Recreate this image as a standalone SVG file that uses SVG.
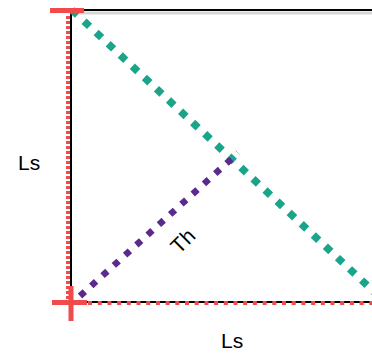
<svg xmlns="http://www.w3.org/2000/svg" width="372" height="353" viewBox="0 0 372 353">
<style>
.edge{stroke:#000;stroke-width:2;fill:none}
.shadow{stroke:#bbb;stroke-width:3;fill:none;opacity:0.6}
.reddot{stroke:#f04a4a;stroke-width:4;fill:none}
.bar{fill:#f04a4a}
.lbl{font-family:"Liberation Sans",Arial,sans-serif;font-size:21px;fill:#000}
</style>
<rect width="372" height="353" fill="#fff"/>
<g id="square">
<path class="shadow" d="M73 13 H372"/>
<path class="edge" d="M71 10 H372 M71 10 V302 H372"/>
</g>
<g id="connectors">
<line class="reddot" x1="68" y1="16" x2="68" y2="300" stroke-dasharray="3 2"/>
<line class="reddot" x1="88" y1="303" x2="372" y2="303" stroke-dasharray="4 5.7"/>
<line id="diag" x1="72" y1="10" x2="385" y2="302" stroke="#1aa58a" stroke-width="7.5" stroke-dasharray="7.5 9"/>
<line id="th" x1="80" y1="296" x2="238" y2="153" stroke="#5b2a8e" stroke-width="6.5" stroke-dasharray="6.5 8.7"/>
</g>
<g id="cross-top">
<rect class="bar" x="50" y="8" width="34" height="5"/>
</g>
<g id="cross-bottom">
<rect class="bar" x="52" y="300" width="35" height="5"/>
<rect class="bar" x="68.5" y="286" width="5" height="35"/>
</g>
<g id="labels">
<text class="lbl" x="18" y="170">Ls</text>
<text class="lbl" x="221" y="348">Ls</text>
<text class="lbl" font-size="18" text-anchor="middle" transform="translate(188,246) rotate(-45)">Th</text>
</g>
</svg>
